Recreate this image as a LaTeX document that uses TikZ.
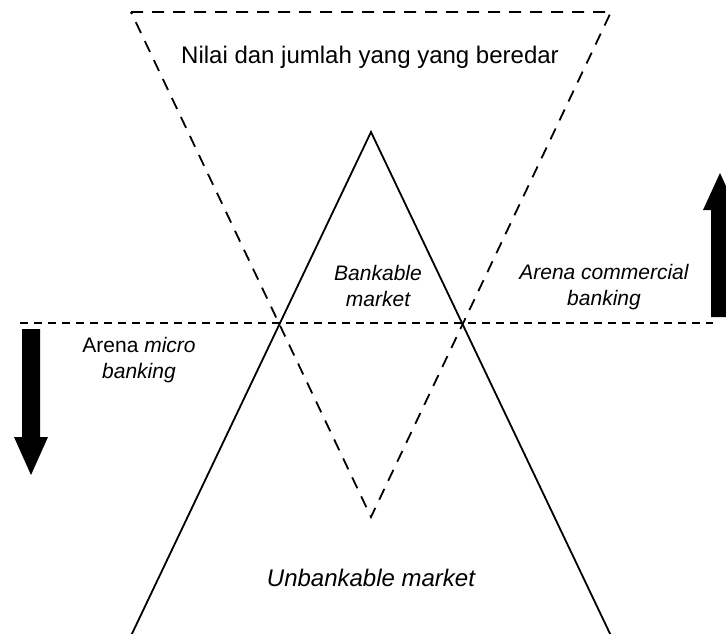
\documentclass[tikz,border=0pt]{standalone}
\usepackage{fontspec}
\setmainfont{Liberation Sans}
\begin{document}
\begin{tikzpicture}[x=1pt,y=-1pt,
  solidline/.style={line width=1.8pt, line join=miter},
  dashline/.style={line width=1.8pt, dash pattern=on 12pt off 9pt},
  hdashline/.style={line width=1.6pt, dash pattern=on 8pt off 6pt},
  lbl/.style={font=\fontsize{21}{26}\selectfont\itshape, align=center, inner sep=0pt},
  biglbl/.style={font=\fontsize{24}{28}\selectfont, align=center, inner sep=0pt},
  bigarrow/.style={fill=black, draw=none}]
\clip (0,0) rectangle (726,634);
% dashed inverted triangle
\coordinate (dTL) at (131,12);
\coordinate (dTR) at (611,12);
\coordinate (dB) at (371,517);
\draw[dashline] (dTL) -- (dTR) -- (dB) -- cycle;
% solid triangle sides
\coordinate (sA) at (371,132);
\coordinate (sL) at (129,640);
\coordinate (sR) at (613,640);
\draw[solidline] (sL) -- (sA) -- (sR);
% horizontal dashed line
\coordinate (hL) at (20,323);
\coordinate (hR) at (713,323);
\draw[hdashline] (hL) -- (hR);
% left down arrow
\fill[bigarrow] (22,329) -- (40,329) -- (40,437) -- (48,437) -- (31,475) -- (14,437) -- (22,437) -- cycle;
% right up arrow
\fill[bigarrow] (711,317) -- (729,317) -- (729,210) -- (737,210) -- (720,173) -- (703,210) -- (711,210) -- cycle;
% labels
\node[biglbl] (top) at (370,57) {Nilai dan jumlah yang yang beredar};
\node[lbl] (bank) at (378,286) {Bankable\\market};
\node[lbl] (comm) at (604,287) {Arena commercial\\banking};
\node[lbl, font=\fontsize{21}{26}\selectfont] (micro) at (139,360) {Arena \textit{micro}\\\textit{banking}};
\node[biglbl, font=\fontsize{24}{28}\selectfont\itshape] (unbank) at (371,578) {Unbankable market};
\end{tikzpicture}
\end{document}
